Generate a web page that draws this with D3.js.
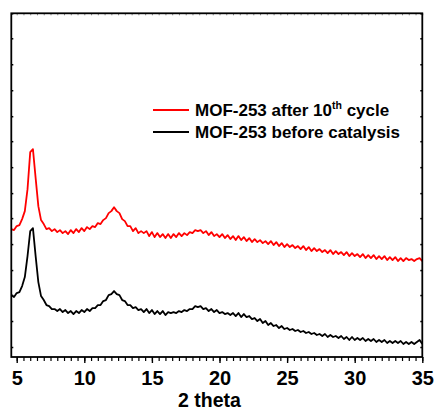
<!DOCTYPE html>
<html>
<head>
<meta charset="utf-8">
<script src="https://cdn.jsdelivr.net/npm/d3@7"></script>
<style>
  body { margin: 0; background: #fff; }
  svg text { font-family: "Liberation Sans", Arial, Helvetica, sans-serif; font-weight: bold; }
</style>
</head>
<body>
<div id="chart"></div>
<script>
// Datos (2 theta cada 0.2 grados, intensidad en u.a.)

const TWO_THETA_START = 4.6;
const TWO_THETA_STEP = 0.2;

const redAfter = [
  128, 127, 131, 132, 138, 146, 168, 205, 208, 179, 151, 137, 133, 128, 129, 126, 128, 125, 127, 124,
  126, 123, 127, 124, 128, 125, 129, 126, 130, 128, 131, 130, 134, 133, 137, 139, 144, 146, 150, 146,
  144, 138, 136, 131, 131, 126, 129, 124, 126, 124, 126, 121, 125, 120, 124, 120, 123, 119, 123, 119,
  123, 120, 124, 121, 124, 122, 125, 124, 127, 126, 127, 124, 126, 122, 125, 121, 123, 120, 123, 119,
  122, 118, 121, 117, 121, 117, 120, 116, 119, 115, 118, 115, 117, 114, 116, 113, 116, 112, 115, 111,
  114, 110, 113, 110, 112, 109, 111, 108, 111, 107, 110, 106, 109, 106, 108, 105, 107, 104, 107, 103,
  106, 103, 105, 102, 105, 101, 104, 101, 103, 100, 103, 99, 102, 99, 102, 98, 101, 98, 101, 97,
  100, 97, 100, 96, 99, 96, 99, 97, 98, 96, 98, 99, 96
];

const blackBefore = [
  62, 60, 64, 65, 71, 80, 101, 126, 129, 101, 75, 61, 57, 52, 51, 48, 48, 46, 48, 45,
  47, 44, 46, 43, 46, 44, 47, 45, 48, 46, 49, 49, 52, 52, 56, 57, 62, 63, 66, 63,
  62, 57, 56, 52, 52, 49, 50, 47, 48, 45, 48, 44, 47, 43, 46, 43, 46, 42, 45, 44,
  45, 44, 46, 45, 47, 46, 48, 48, 51, 50, 51, 48, 49, 46, 48, 45, 47, 44, 45, 43,
  44, 42, 44, 41, 44, 40, 43, 40, 41, 38, 39, 36, 38, 34, 36, 32, 34, 31, 32, 29,
  31, 28, 29, 27, 28, 26, 27, 25, 26, 24, 25, 23, 24, 22, 23, 21, 23, 20, 22, 20,
  21, 19, 21, 18, 20, 17, 20, 17, 19, 17, 19, 16, 18, 16, 18, 15, 17, 15, 17, 14,
  16, 14, 16, 14, 16, 13, 15, 13, 15, 13, 15, 17, 13
];

const seriesNames = ["MOF-253 after 10", "MOF-253 before catalysis"];
const seriesColors = ["#ff0000", "#000000"];

const xTickLabels = [5, 10, 15, 20, 25, 30, 35];
const yTicks = [10, 36, 62, 87, 113, 139, 164, 190, 216, 241, 267, 293, 319, 344];

// Dimensiones

const WIDTH = 435;
const HEIGHT = 412;

const MARGIN = {
  top: 13.3,
  bottom: 55,
  left: 11.3,
  right: 12.7,
};

const WIDTH_VIS = WIDTH - MARGIN.left - MARGIN.right;
const HEIGHT_VIS = HEIGHT - MARGIN.top - MARGIN.bottom;

const svg = d3.select("#chart")
  .append("svg")
  .attr("width", WIDTH)
  .attr("height", HEIGHT);

const g = svg.append("g")
  .attr("transform", `translate(${MARGIN.left}, ${MARGIN.top})`);

const xScale = d3.scaleLinear()
  .domain([4.6, 35])
  .range([0, WIDTH_VIS]);

const yScale = d3.scaleLinear()
  .domain([0, 344])
  .range([HEIGHT_VIS, 0]);

const toPoints = values => values.map((v, i) => [TWO_THETA_START + i * TWO_THETA_STEP, v]);

const line = d3.line()
  .x(d => xScale(d[0]))
  .y(d => yScale(d[1]));

// Curvas

[redAfter, blackBefore].forEach((serie, i) => {
  g.append("path")
    .datum(toPoints(serie))
    .attr("fill", "none")
    .attr("stroke", seriesColors[i])
    .attr("stroke-width", 1.8)
    .attr("stroke-linejoin", "round")
    .attr("d", line);
});

// Ejes

const minorTicks = d3.range(5, 35.01, 0.5);

g.append("g")
  .attr("transform", `translate(0, ${HEIGHT_VIS})`)
  .call(d3.axisBottom(xScale).tickValues(minorTicks).tickSize(4).tickFormat(""))
  .call(a => a.select(".domain").remove())
  .selectAll("line").attr("stroke-width", 1.2);

g.append("g")
  .attr("transform", `translate(0, ${HEIGHT_VIS})`)
  .call(d3.axisBottom(xScale).tickValues(xTickLabels).tickSize(6).tickPadding(8))
  .call(a => a.select(".domain").remove())
  .call(a => a.selectAll("line").attr("stroke-width", 1.4))
  .selectAll("text")
  .attr("font-size", 20)
  .attr("fill", "#000");

g.append("g")
  .call(d3.axisTop(xScale).tickValues(minorTicks).tickSize(-2).tickFormat(""))
  .call(a => a.select(".domain").remove())
  .selectAll("line").attr("stroke", "#888");

g.append("g")
  .call(d3.axisLeft(yScale).tickValues(yTicks).tickSize(-2).tickFormat(""))
  .call(a => a.select(".domain").remove())
  .selectAll("line").attr("stroke-width", 1.5);

g.append("g")
  .attr("transform", `translate(${WIDTH_VIS}, 0)`)
  .call(d3.axisRight(yScale).tickValues(yTicks).tickSize(-2).tickFormat(""))
  .call(a => a.select(".domain").remove())
  .selectAll("line").attr("stroke-width", 1.5);

// Marco
g.append("rect")
  .attr("width", WIDTH_VIS)
  .attr("height", HEIGHT_VIS)
  .attr("fill", "none")
  .attr("stroke", "#000")
  .attr("stroke-width", 1.8);

svg.append("text")
  .attr("x", 209.5)
  .attr("y", 407)
  .attr("text-anchor", "middle")
  .attr("font-size", 19.5)
  .text("2 theta");

// Leyenda

const legend = svg.append("g")
  .attr("transform", "translate(153, 110)");

seriesNames.forEach((name, i) => {
  const row = legend.append("g")
    .attr("transform", `translate(0, ${i * 22})`);

  row.append("line")
    .attr("x1", 0)
    .attr("x2", 36)
    .attr("stroke", seriesColors[i])
    .attr("stroke-width", 1.8);

  const label = row.append("text")
    .attr("x", 42)
    .attr("y", 6)
    .attr("font-size", 17)
    .text(name);

  if (i === 0) {
    label.append("tspan")
      .attr("dy", -7)
      .attr("font-size", 10.5)
      .text("th");
    label.append("tspan")
      .attr("dy", 7)
      .text(" cycle");
  }
});
</script>
</body>
</html>
